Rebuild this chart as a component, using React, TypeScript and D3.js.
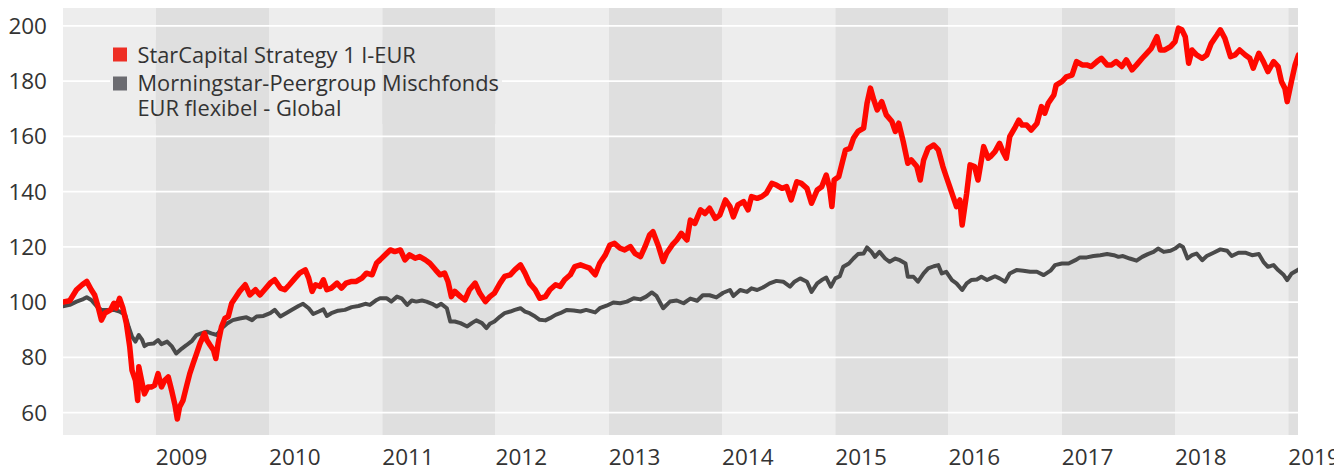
import React from 'react';
import * as d3 from 'd3';

// ---- data (time as decimal year, value indexed to 100) ----
const seriesNames = ['StarCapital Strategy 1 I-EUR', 'Morningstar-Peergroup Mischfonds', 'EUR flexibel - Global'];
const yearTicks = [2009, 2010, 2011, 2012, 2013, 2014, 2015, 2016, 2017, 2018, 2019];
const bandYears = [2008, 2009, 2010, 2011, 2012, 2013, 2014, 2015, 2016, 2017, 2018, 2019];
const valueTicks = [60, 80, 100, 120, 140, 160, 180, 200];

const starCapital: [number, number][] = [
  [2008.18,100],[2008.24,100.5],[2008.30,104.5],[2008.35,106.3],[2008.39,107.5],[2008.43,104.5],[2008.46,102.6],[2008.49,98.4],[2008.52,93.5],[2008.55,96],[2008.60,97.2],[2008.63,99.6],[2008.65,97.8],[2008.68,101.4],[2008.71,97.8],[2008.74,92.3],[2008.77,83.8],[2008.79,75.3],[2008.82,71.7],[2008.84,64.4],[2008.85,76.6],[2008.88,70.5],[2008.90,66.8],[2008.93,69.3],[2008.96,69.3],[2008.99,69.9],[2009.02,74.1],[2009.05,69.3],[2009.08,71.7],[2009.11,72.9],[2009.14,68],[2009.17,62.6],[2009.19,57.7],[2009.21,62],[2009.24,64.4],[2009.27,69.3],[2009.30,74.1],[2009.33,77.8],[2009.36,81.4],[2009.39,85],[2009.43,88.7],[2009.45,86.3],[2009.48,84.4],[2009.51,82.6],[2009.53,79.6],[2009.55,85],[2009.58,91.1],[2009.61,94.1],[2009.64,94.8],[2009.67,99.6],[2009.70,101.4],[2009.74,103.9],[2009.79,106.3],[2009.83,102.6],[2009.88,104.5],[2009.92,102.6],[2009.96,104.5],[2010.01,106.9],[2010.05,108.1],[2010.10,105.1],[2010.14,104.5],[2010.18,106.3],[2010.23,108.7],[2010.27,110.5],[2010.32,111.7],[2010.35,108.7],[2010.38,103.9],[2010.41,106.3],[2010.45,105.7],[2010.48,108.1],[2010.51,104.5],[2010.55,105.1],[2010.60,106.9],[2010.64,105.1],[2010.68,106.9],[2010.73,107.5],[2010.77,107.5],[2010.82,108.7],[2010.86,110.5],[2010.91,109.9],[2010.95,114.2],
  [2010.98,115.3],[2011.04,117.7],[2011.07,118.9],[2011.11,118.3],[2011.16,118.9],[2011.20,115.3],[2011.24,117.1],[2011.29,115.9],[2011.33,116.5],[2011.38,115.3],[2011.42,114.1],[2011.47,111.7],[2011.51,109.9],[2011.55,110.5],[2011.58,107.5],[2011.61,102],[2011.64,103.9],[2011.69,102],[2011.73,100.8],[2011.77,104.5],[2011.82,106.9],[2011.86,103.3],[2011.91,100.2],[2011.95,102],[2011.99,103.3],[2012.04,106.9],[2012.08,109.3],[2012.13,109.9],[2012.17,111.7],[2012.22,113.5],[2012.26,110.5],[2012.30,106.9],[2012.35,104.5],[2012.39,101.4],[2012.44,102],[2012.48,104.5],[2012.53,106.3],[2012.57,105.7],[2012.61,108.1],[2012.66,109.9],[2012.70,112.9],[2012.75,113.5],[2012.79,112.9],[2012.83,112.3],[2012.88,109.9],[2012.92,114.1],[2012.97,117.1],[2013.01,120.7],[2013.05,121.3],[2013.10,119.5],[2013.14,118.9],[2013.19,120.1],[2013.23,117.7],[2013.28,116.5],[2013.32,120.1],[2013.36,124.3],[2013.39,125.5],[2013.44,120.1],[2013.48,114.7],[2013.51,117.7],[2013.56,120.7],[2013.60,122.5],[2013.64,124.9],[2013.69,122.5],
  [2013.72,129.7],[2013.76,128.5],[2013.81,133.4],[2013.85,132.1],[2013.89,134],[2013.94,130.3],[2013.98,131.5],[2014.03,137],[2014.07,134.6],[2014.10,130.9],[2014.14,135.2],[2014.19,136.4],[2014.23,133.4],[2014.26,138.2],[2014.31,137.6],[2014.35,138.2],[2014.39,139.4],[2014.44,143],[2014.48,142.4],[2014.53,141.2],[2014.57,141.8],[2014.61,137],[2014.66,143.6],[2014.70,143],[2014.75,141.2],[2014.79,135.8],[2014.84,140.6],[2014.88,141.8],[2014.92,146],[2014.95,141.2],[2014.97,134.6],[2014.99,144.2],[2015.03,145.4],[2015.06,150.3],[2015.09,155.1],[2015.13,155.7],[2015.16,159.3],[2015.20,161.8],[2015.25,163],[2015.28,172],[2015.31,177.5],[2015.34,173.2],[2015.37,169.6],[2015.41,172.6],[2015.45,167.8],[2015.50,165.4],[2015.53,161.8],[2015.56,164.8],[2015.60,158.1],[2015.64,150.3],[2015.67,151.5],[2015.72,149.1],[2015.75,144.2],[2015.78,151.5],[2015.82,155.7],[2015.87,156.9],[2015.91,155.1],[2015.95,149.1],[2015.98,145.4],[2016.01,141.8],[2016.04,138.2],[2016.07,134.6],[2016.10,137],[2016.12,127.9],[2016.16,139.4],[2016.19,149.7],[2016.23,149.1],[2016.26,144.2],[2016.31,156.3],[2016.35,152.1],
  [2016.37,152.7],[2016.41,154.5],[2016.45,157.5],[2016.48,154.5],[2016.51,152.1],[2016.54,159.9],[2016.59,163.5],[2016.62,165.9],[2016.65,164.1],[2016.69,164.1],[2016.73,162.3],[2016.78,164.7],[2016.82,170.8],[2016.85,168.4],[2016.88,172],[2016.93,175],[2016.95,178.6],[2017.00,179.8],[2017.04,181.6],[2017.09,182.2],[2017.13,187.1],[2017.18,185.9],[2017.22,185.9],[2017.26,185.3],[2017.31,187.1],[2017.35,188.3],[2017.40,185.9],[2017.44,185.9],[2017.48,187.1],[2017.53,185.3],[2017.57,187.7],[2017.62,184.1],[2017.66,185.9],[2017.71,188.3],[2017.75,190.1],[2017.79,191.9],[2017.84,196.1],[2017.87,191.3],[2017.91,191.3],[2017.96,192.5],[2018.00,194.3],[2018.03,199.2],[2018.06,198.6],[2018.09,196.1],[2018.12,186.5],[2018.15,191.3],[2018.19,189.5],[2018.24,188.3],[2018.28,189.5],[2018.32,193.7],[2018.37,196.7],[2018.40,198.6],[2018.44,195.5],[2018.49,188.9],[2018.53,189.5],[2018.57,191.3],[2018.62,189.5],[2018.66,188.3],[2018.69,184.7],[2018.74,190.1],[2018.78,187.1],[2018.82,183.5],[2018.87,187.1],[2018.91,185.3],[2018.94,179.8],[2018.97,177.4],[2018.99,172.6],[2019.03,180.4],[2019.06,185.9],[2019.09,189.5]
];

const peerGroup: [number, number][] = [
  [2008.18,98.5],[2008.24,99],[2008.30,100.2],[2008.36,101.1],[2008.39,101.8],[2008.43,100.8],[2008.48,98.4],[2008.52,97.2],[2008.57,97.2],[2008.63,97.2],[2008.68,96.6],[2008.73,95.4],[2008.76,91.1],[2008.79,87.5],[2008.82,85.7],[2008.85,88.1],[2008.88,86.3],[2008.90,84.1],[2008.93,84.8],[2008.98,85],[2009.02,86.3],[2009.05,84.8],[2009.10,85.7],[2009.14,84.1],[2009.18,81.4],[2009.23,83.2],[2009.27,84.4],[2009.32,86],[2009.36,88.1],[2009.40,88.7],[2009.45,89.3],[2009.49,88.7],[2009.54,88.1],[2009.58,90.5],[2009.63,92.3],[2009.68,93.5],[2009.74,94.1],[2009.80,94.5],[2009.85,93.5],[2009.89,94.8],[2009.95,95],[2010.01,96],[2010.05,97.2],[2010.10,94.8],[2010.15,96],[2010.21,97.4],[2010.26,98.6],[2010.30,99.4],[2010.35,97.8],[2010.39,95.7],[2010.44,96.6],[2010.48,97.4],[2010.51,95],[2010.55,96],[2010.61,96.9],[2010.67,97.2],[2010.73,98.2],[2010.79,98.6],[2010.85,99.4],[2010.89,99],[2010.95,100.8],
  [2010.98,101.4],[2011.04,101.4],[2011.08,100.2],[2011.13,102],[2011.17,101.4],[2011.22,99],[2011.26,100.6],[2011.30,100.2],[2011.35,100.6],[2011.39,100.2],[2011.44,99.4],[2011.48,98.4],[2011.52,99.4],[2011.57,97.8],[2011.60,93],[2011.64,93],[2011.69,92.4],[2011.75,91.2],[2011.79,92.4],[2011.83,93.4],[2011.88,92.4],[2011.92,90.6],[2011.95,92.2],[2011.99,93],[2012.04,94.8],[2012.08,96],[2012.13,96.6],[2012.17,97.2],[2012.22,97.8],[2012.26,96.6],[2012.30,96],[2012.35,94.8],[2012.39,93.6],[2012.44,93.4],[2012.48,94.2],[2012.53,95.4],[2012.57,96],[2012.63,97.2],[2012.69,97],[2012.75,96.6],[2012.80,97.2],[2012.88,96.3],[2012.92,97.8],[2012.98,98.7],[2013.04,99.9],[2013.10,99.6],[2013.16,100.2],[2013.22,101.4],[2013.28,101],[2013.33,102],[2013.38,103.5],[2013.42,102.3],[2013.48,97.8],[2013.54,100.2],[2013.60,100.6],[2013.66,99.6],
  [2013.72,101.3],[2013.78,100.5],[2013.83,102.5],[2013.89,102.5],[2013.95,101.7],[2014.01,103.4],[2014.07,104.4],[2014.10,102.2],[2014.16,104.4],[2014.22,103.7],[2014.26,105],[2014.31,104.4],[2014.36,105.3],[2014.42,106.8],[2014.48,107.7],[2014.54,107.4],[2014.60,105.6],[2014.64,107.4],[2014.69,108.6],[2014.75,107.4],[2014.79,103.7],[2014.84,106.8],[2014.88,108],[2014.92,108.9],[2014.96,105.6],[2015.00,108.6],[2015.04,109.4],[2015.07,112.8],[2015.12,114],[2015.16,115.8],[2015.20,117.4],[2015.25,117.6],[2015.28,119.8],[2015.32,118.2],[2015.35,116.4],[2015.39,118.2],[2015.44,115.8],[2015.48,114.6],[2015.53,115.8],[2015.57,115.2],[2015.62,114],[2015.64,109.2],[2015.69,109.2],[2015.73,107.4],[2015.78,110.4],[2015.82,112.2],[2015.87,113],[2015.91,113.4],[2015.94,110.4],[2015.98,111],[2016.03,108],[2016.07,106.8],[2016.12,104.4],[2016.16,106.8],[2016.20,108],[2016.25,108.2],[2016.29,109.2],[2016.34,108],
  [2016.37,108.6],[2016.41,109.4],[2016.45,108.6],[2016.50,107.4],[2016.54,110.4],[2016.60,111.6],[2016.66,111.4],[2016.72,111],[2016.78,111],[2016.84,109.8],[2016.90,111.4],[2016.94,113.4],[2017.00,114],[2017.06,114],[2017.12,115.2],[2017.16,116.2],[2017.22,116.2],[2017.28,116.7],[2017.34,117],[2017.40,117.4],[2017.46,117],[2017.50,116.4],[2017.54,116.7],[2017.60,115.8],[2017.66,115],[2017.71,116.4],[2017.76,117.4],[2017.81,118.2],[2017.85,119.4],[2017.90,118.2],[2017.96,118.6],[2018.00,119.4],[2018.04,120.7],[2018.07,120],[2018.11,115.8],[2018.15,117],[2018.19,117.6],[2018.24,115.2],[2018.28,116.7],[2018.34,117.9],[2018.40,119.1],[2018.46,118.6],[2018.50,116.7],[2018.56,117.9],[2018.62,117.9],[2018.68,117],[2018.74,117.4],[2018.78,114.6],[2018.82,112.8],[2018.87,113.4],[2018.91,111.6],[2018.96,109.8],[2018.99,108],[2019.03,110.4],[2019.09,111.8]
];

const COLORS = {
  star: '#ff0800',
  peer: '#4a4a4a',
  starKey: '#ee2e24',
  peerKey: '#6b6b70',
  bandLight: '#ededed',
  bandDark: '#dfdfdf',
  text: '#333333',
};

export default function App() {
  const W = 1334, H = 468;
  const left = 63, right = 1298, top = 8, bottom = 435;
  const x = d3.scaleLinear().domain([2008.1806, 2019.0856]).range([left, right]);
  const y = d3.scaleLinear().domain([51.9, 206.5]).range([bottom, top]);
  const line = d3.line<[number, number]>().x(d => x(d[0])).y(d => y(d[1]));
  const font = "'Open Sans', 'DejaVu Sans', sans-serif";

  const bands = bandYears.map(yr => {
    const x0 = Math.max(left, x(yr));
    const x1 = Math.min(right, x(yr + 1));
    return { yr, x0, x1, fill: yr % 2 === 0 ? COLORS.bandLight : COLORS.bandDark };
  });

  const legendBox = { x: 110, y: 40, w: 392, h: 84 };

  return (
    <svg width={W} height={H} style={{ position: 'absolute', left: 0, top: 0, display: 'block' }} fontFamily={font}>
      <defs>
        <clipPath id="plotClip"><rect x={left} y={top} width={right - left} height={bottom - top} /></clipPath>
        <clipPath id="legClip"><rect x={legendBox.x} y={legendBox.y} width={legendBox.w} height={legendBox.h} /></clipPath>
      </defs>
      {bands.map(b => (
        <rect key={b.yr} x={b.x0} y={top} width={Math.max(0, b.x1 - b.x0)} height={bottom - top} fill={b.fill} />
      ))}
      {valueTicks.map(v => (
        <line key={v} x1={left} x2={right} y1={y(v)} y2={y(v)} stroke="#ffffff" strokeWidth={1.8} />
      ))}
      <g clipPath="url(#legClip)">
        {bands.map(b => (
          <rect key={'l' + b.yr} x={b.x0} y={top} width={Math.max(0, b.x1 - b.x0)} height={bottom - top} fill={b.fill} />
        ))}
      </g>
      <g clipPath="url(#plotClip)" fill="none" strokeLinejoin="round" strokeLinecap="round">
        <path d={line(peerGroup) || ''} stroke={COLORS.peer} strokeWidth={4} />
        <path d={line(starCapital) || ''} stroke={COLORS.star} strokeWidth={5.5} />
      </g>
      {valueTicks.map(v => (
        <text key={v} x={47} y={y(v) + 8} textAnchor="end" fontSize={22.5} fill={COLORS.text}>{v}</text>
      ))}
      {yearTicks.map(yr => (
        <text key={yr} x={x(yr)} y={465} textAnchor="start" fontSize={22.5} fill={COLORS.text}>{yr}</text>
      ))}
      <g>
        <rect x={113} y={47.5} width={14} height={14} fill={COLORS.starKey} />
        <rect x={113} y={76.5} width={14} height={14} fill={COLORS.peerKey} />
        <text x={137.5} y={63} fontSize={21.8} fill={COLORS.text}>{seriesNames[0]}</text>
        <text x={137.5} y={91} fontSize={21.8} fill={COLORS.text}>{seriesNames[1]}</text>
        <text x={137.5} y={116} fontSize={21.8} fill={COLORS.text}>{seriesNames[2]}</text>
      </g>
    </svg>
  );
}
